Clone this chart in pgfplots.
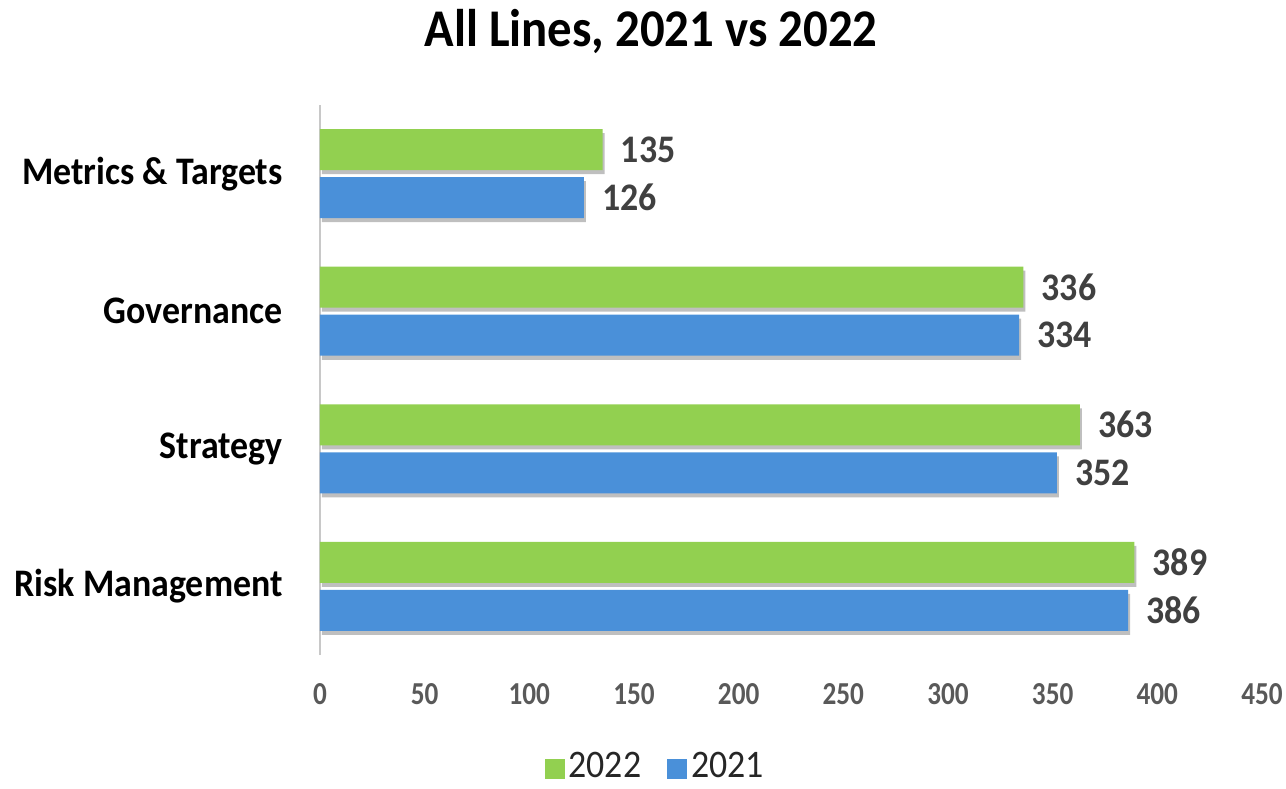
\documentclass[border=0pt]{standalone}
\usepackage{fontspec}
\setmainfont{Carlito}
\usepackage{pgfplots}
\pgfplotsset{compat=1.18}
\usetikzlibrary{shadows}
\definecolor{cgreen}{RGB}{146,208,80}
\definecolor{cblue}{RGB}{74,144,217}
\definecolor{labgray}{RGB}{64,64,64}
\definecolor{tickgray}{RGB}{89,89,89}
\definecolor{axgray}{RGB}{200,200,200}
\newcommand\sq[1]{\scalebox{0.92}[1]{#1}}
\begin{document}
\begin{tikzpicture}
\path (-160pt,-65pt) rectangle (483pt,327.5pt);
\node[anchor=base, font=\fontsize{26.5}{30}\selectfont\bfseries] at (165.5pt,304pt) {\sq{All Lines, 2021 vs 2022}};
\begin{axis}[
  at={(0,0)}, anchor=south west,
  scale only axis,
  width=471pt, height=275pt,
  xmin=0, xmax=450,
  ymin=-0.5, ymax=3.5,
  xtick={0,50,...,450},
  ytick={0,1,2,3},
  yticklabels={\sq{Risk Management}, \sq{Strategy}, \sq{Governance}, \sq{Metrics \& Targets}},
  xticklabel={\scalebox{0.85}[1]{\pgfmathprintnumber{\tick}}},
  axis lines*=left,
  x axis line style={draw=none},
  y axis line style={draw=axgray, line width=1pt},
  major tick length=0pt,
  /pgf/number format/assume math mode=true,
  xticklabel style={anchor=north, inner sep=0pt, yshift=-14pt, font=\fontsize{16}{18}\selectfont\bfseries, text=tickgray},
  yticklabel style={anchor=east, inner sep=0pt, xshift=-18.5pt, font=\fontsize{19.5}{22}\selectfont\bfseries, text=black},
  xbar,
  bar width=20.5pt,
  nodes near coords={\sq{\pgfmathprintnumber{\pgfplotspointmeta}}},
  every node near coord/.append style={anchor=west, inner sep=0pt, xshift=9pt, font=\fontsize{19.5}{22}\selectfont\bfseries, text=labgray},
  legend style={draw=none, at={(0.357,-0.203)}, anchor=center, legend columns=2, font=\fontsize{19.5}{22}\selectfont, text=black!85,
    /tikz/every even column/.append style={column sep=11pt}},
  legend image code/.code={\fill[#1] (0pt,-6pt) rectangle (10pt,4pt);},
]
\addlegendimage{fill=cgreen, draw=none}
\addlegendentry{\sq{2022}}
\addlegendimage{fill=cblue, draw=none}
\addlegendentry{\sq{2021}}
\addplot[fill=cgreen, draw=none, bar shift=12pt, forget plot, drop shadow={shadow xshift=1pt, shadow yshift=-2pt, fill=black, opacity=0.25}] coordinates {(389,0) (363,1) (336,2) (135,3)};
\addplot[fill=cblue, draw=none, bar shift=-12pt, forget plot, drop shadow={shadow xshift=1pt, shadow yshift=-2pt, fill=black, opacity=0.25}] coordinates {(386,0) (352,1) (334,2) (126,3)};
\end{axis}
\end{tikzpicture}
\end{document}
